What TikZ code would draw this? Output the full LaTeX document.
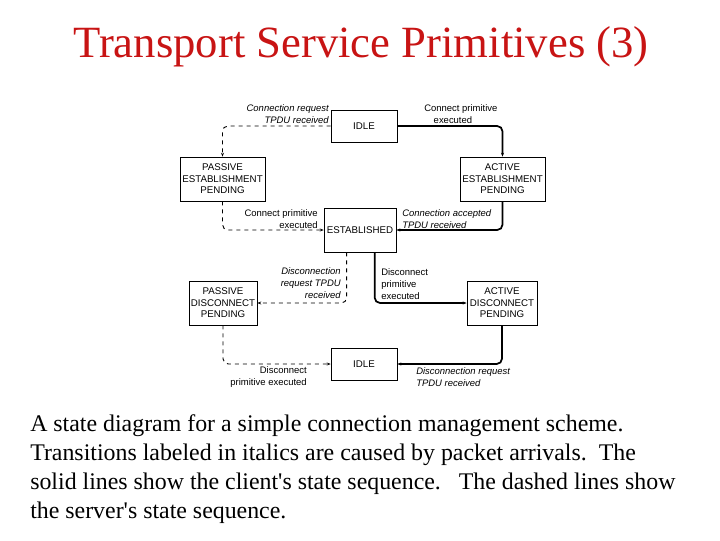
\documentclass[tikz,border=0pt]{standalone}
\usepackage{fontspec}
\setmainfont{Liberation Serif}
\newfontfamily\diagfont{Liberation Sans}
\usetikzlibrary{positioning,arrows.meta}
\definecolor{titlered}{RGB}{200,20,20}

\tikzset{
  state/.style={draw, line width=0.5pt, fill=white, align=center, inner sep=0pt,
    font=\diagfont\fontsize{7.3}{8.6}\selectfont},
  server/.style={dashed, line width=0.7pt, rounded corners=4pt, -{Stealth[length=3pt]}},
  client/.style={line width=1.3pt, rounded corners=4pt, -{Stealth[length=3pt]}},
  lbl/.style={font=\diagfont\fontsize{7.1}{8.8}\selectfont, inner sep=0pt},
  pkt/.style={lbl, font=\diagfont\itshape\fontsize{7.1}{8.8}\selectfont},
}

\begin{document}
\begin{tikzpicture}[x=0.75pt, y=-0.75pt]
  \useasboundingbox (0,0) rectangle (720,540);
  % title
  \node[text=titlered, font=\fontsize{33.5}{38}\selectfont] (title) at (361,47) {Transport Service Primitives (3)};

  % states
  \node[state, minimum width=49.5pt, minimum height=24pt] (idle) at (364,126) {IDLE};
  \node[state, minimum width=64pt, minimum height=33pt] (pep) at (222.5,179) {PASSIVE\\ESTABLISHMENT\\PENDING};
  \node[state, minimum width=64pt, minimum height=33pt] (aep) at (502.5,179) {ACTIVE\\ESTABLISHMENT\\PENDING};
  \node[state, minimum width=54pt, minimum height=33pt] (est) at (360,230) {ESTABLISHED};
  \node[state, minimum width=51pt, minimum height=33pt] (pdp) at (223,303) {PASSIVE\\DISCONNECT\\PENDING};
  \node[state, minimum width=52.5pt, minimum height=33pt] (adp) at (502,303) {ACTIVE\\DISCONNECT\\PENDING};
  \node[state, minimum width=49.5pt, minimum height=24pt] (idle2) at (364,364) {IDLE};

  % transitions
  \draw[server] (idle.west) -| (pep.north);
  \draw[client] (idle.east) -| (aep.north);
  \draw[server] (pep.south) |- (est.west);
  \draw[client] (aep.south) |- (est.east);
  \draw[server] ([xshift=-10pt]est.south) |- (pdp.east);
  \draw[client] ([xshift=11pt]est.south) |- (adp.west);
  \draw[server] (pdp.south) |- (idle2.west);
  \draw[client] (adp.south) |- (idle2.east);

  % transition labels
  \node[pkt, anchor=east, align=right] (l1) at (329,114) {Connection request\\TPDU received};
  \node[lbl, anchor=west, align=left] (l2) at (424,114) {Connect primitive\\\quad executed};
  \node[lbl, anchor=east, align=right] (l3) at (318,219) {Connect primitive\\executed};
  \node[pkt, anchor=west, align=left] (l4) at (402,219) {Connection accepted\\TPDU received};
  \node[pkt, anchor=east, align=right] (l5) at (341,283) {Disconnection\\request TPDU\\received};
  \node[lbl, anchor=west, align=left] (l6) at (381,284) {Disconnect\\primitive\\executed};
  \node[lbl, anchor=east, align=right] (l7) at (307,377) {Disconnect\\primitive executed};
  \node[pkt, anchor=west, align=left] (l8) at (416,377) {Disconnection request\\TPDU received};

  % caption
  \begin{scope}[every node/.style={anchor=west, inner sep=0pt, font=\fontsize{17.9}{21}\selectfont}]
    \node (c1) at (30,426) {A state diagram for a simple connection management scheme.};
    \node (c2) at (30,455) {Transitions labeled in italics are caused by packet arrivals.\ \ The};
    \node (c3) at (30,484) {solid lines show the client\textquotesingle s state sequence.\ \ \ The dashed lines show};
    \node (c4) at (30,513) {the server\textquotesingle s state sequence.};
  \end{scope}
\end{tikzpicture}
\end{document}
